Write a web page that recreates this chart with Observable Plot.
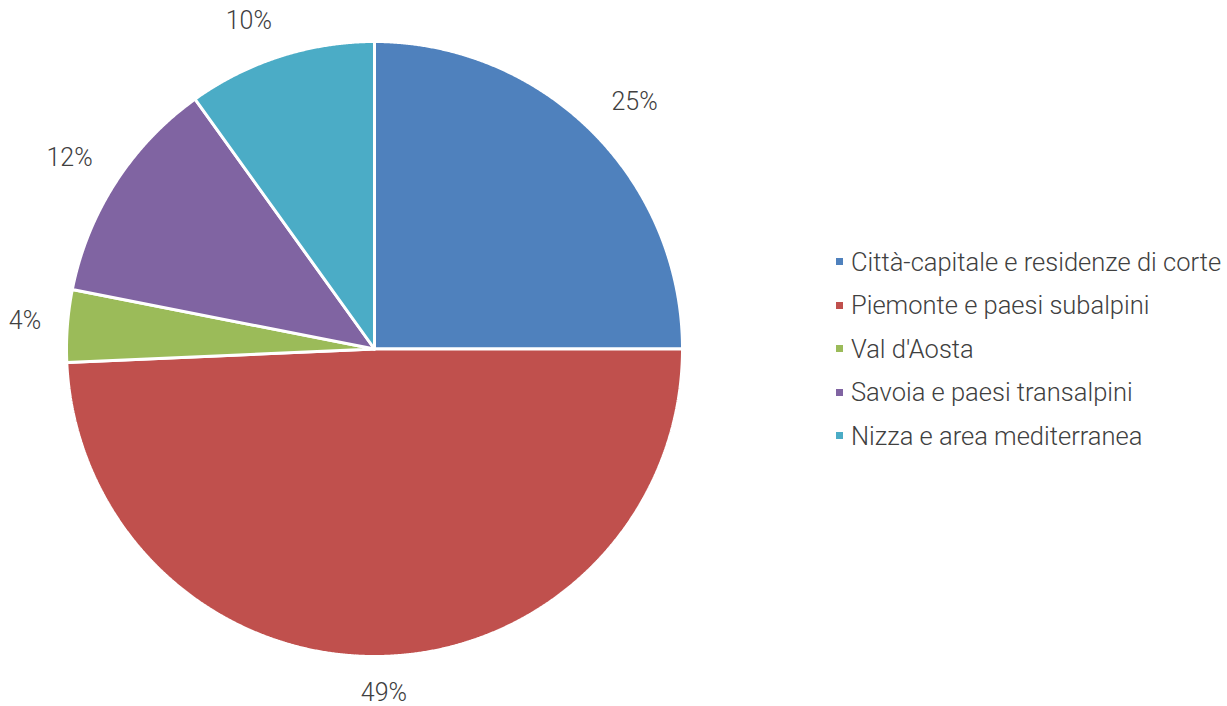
<!DOCTYPE html>
<html><head><meta charset="utf-8">
<script src="https://cdn.jsdelivr.net/npm/d3@7"></script>
<script src="https://cdn.jsdelivr.net/npm/@observablehq/plot@0.6"></script>
<style>
body{margin:0;background:#fff;}
#wrap{position:relative;width:1227px;height:706px;font-family:"Roboto Light",Roboto,sans-serif;}
#legend{position:absolute;left:836px;top:240px;}
.row{display:flex;align-items:center;height:43.5px;font-size:25.5px;font-weight:300;color:#404040;white-space:nowrap;}
.sw{width:7px;height:7px;margin-right:8px;flex:none;}
</style></head><body><div id="wrap"></div>
<script>
const categories = ["Città-capitale e residenze di corte","Piemonte e paesi subalpini","Val d'Aosta","Savoia e paesi transalpini","Nizza e area mediterranea"];
const values = [25.0, 49.3, 3.8, 12.0, 9.9];
const colors = ["#4F81BD","#C0504D","#9BBB59","#8064A2","#4BACC6"];
const labels = values.map(v => Math.round(v) + "%");

const arcs = d3.pie().sort(null).value(d => d)(values);
const slices = [];
arcs.forEach((a, i) => {
  const cat = categories[i];
  slices.push({cat, x: 0, y: 0});
  const n = Math.max(2, Math.ceil((a.endAngle - a.startAngle) / 0.004));
  for (let k = 0; k <= n; k++) {
    const t = a.startAngle + (a.endAngle - a.startAngle) * k / n;
    slices.push({cat, x: Math.sin(t), y: Math.cos(t)});
  }
  slices.push({cat, x: 0, y: 0});
});

// label boxes sit just outside the rim (Excel "outside end" style)
const R = 308, fs = 25;
const clamp = v => Math.max(-1, Math.min(1, v));
const labelRows = arcs.map((a, i) => {
  const m = (a.startAngle + a.endAngle) / 2;
  const hw = labels[i].length * 7.7 / R, hh = 10 / R;
  return {
    x: 1.088 * Math.sin(m) + hw * clamp(4 * Math.sin(m)),
    y: 1.088 * Math.cos(m) + hh * clamp(4 * Math.cos(m)),
    text: labels[i]
  };
});

const plot = Plot.plot({
  width: 1227, height: 706,
  marginLeft: 66, marginRight: 545, marginTop: 41, marginBottom: 50,
  x: {domain: [-1, 1], axis: null},
  y: {domain: [-1, 1], axis: null},
  color: {domain: categories, range: colors},
  style: {fontFamily: "'Roboto Light', Roboto, sans-serif", background: "#fff"},
  marks: [
    Plot.line(slices, {x: "x", y: "y", z: "cat", fill: "cat", stroke: "white", strokeWidth: 3, strokeLinejoin: "miter", curve: "linear"}),
    Plot.text(labelRows, {x: "x", y: "y", text: "text", fontSize: fs, fontWeight: 300, fill: "#404040"})
  ]
});
const wrap = document.getElementById("wrap");
wrap.appendChild(plot);
const color = plot.scale("color");
const legend = document.createElement("div");
legend.id = "legend";
categories.forEach((c, i) => {
  const row = document.createElement("div");
  row.className = "row";
  const sw = document.createElement("span");
  sw.className = "sw";
  sw.style.background = color.range[i];
  const tx = document.createElement("span");
  tx.textContent = c;
  row.appendChild(sw); row.appendChild(tx);
  legend.appendChild(row);
});
wrap.appendChild(legend);
</script></body></html>
